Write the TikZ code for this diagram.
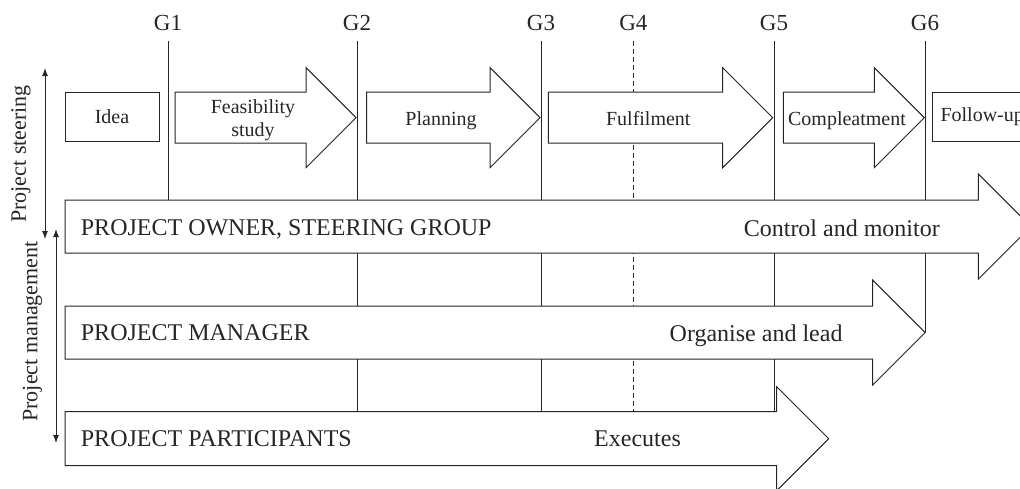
\documentclass[tikz,border=0pt]{standalone}
\usepackage{fontspec}
\setmainfont{Liberation Serif}
\usetikzlibrary{arrows.meta}

\tikzset{
  ink/.style={black!85},
  outline/.style={draw=black!85, line width=1pt, line join=miter},
  blockshape/.style={outline, fill=white},
  gateline/.style={draw=black!85, line width=1pt},
  gatemid/.style={gateline, dash pattern=on 5pt off 3pt},
  gatelabel/.style={font=\fontsize{23}{27}\selectfont, text=black!85, inner sep=0pt, anchor=base},
  phaselabel/.style={font=\fontsize{20}{23.4}\selectfont, text=black!85, inner sep=0pt},
  rolelabel/.style={font=\fontsize{24}{28}\selectfont, text=black!85, inner sep=0pt},
  sidelabel/.style={font=\fontsize{22}{26}\selectfont, text=black!85, inner sep=0pt, rotate=90},
  scopearrow/.style={draw=black!85, line width=1pt,
    {Latex[length=8pt,width=6pt]}-{Latex[length=8pt,width=6pt]}},
}

% block arrow: #1 tail x, #2 x of the head base, #3 centre y,
% #4 half shaft height, #5 half head height (head drawn at 45 degrees)
\newcommand\blockarrow[5]{%
  \draw[blockshape] (#1,#3-#4) -- (#2,#3-#4) -- (#2,#3-#5) -- ({#2+#5},#3)
    -- (#2,#3+#5) -- (#2,#3+#4) -- (#1,#3+#4) -- cycle;}

\begin{document}
\begin{tikzpicture}[x=1pt,y=-1pt]
\useasboundingbox (0,0) rectangle (1020,488);
\fill[white] (0,0) rectangle (1020,488);
\clip (0,0) rectangle (1020,488);

% decision gates
\foreach \g/\x/\yb in {G1/168/200,G2/357/411.7,G3/541/411.7,G5/774/411.7,G6/925/332} {
  \node[gatelabel] (\g) at (\x,30) {\g};
  \coordinate (\g-top) at (\x,41);
  \coordinate (\g-bot) at (\x,\yb);
  \draw[gateline] (\g-top) -- (\g-bot);
}
\node[gatelabel] (G4) at (633.3,30) {G4};
\coordinate (G4-top) at (633.3,41);
\coordinate (G4-bot) at (633.3,411.7);
\draw[gatemid] (G4-top) -- (G4-bot);

% project phases
\node[phaselabel, outline, fill=white, minimum width=94pt, minimum height=49.5pt]
  (idea) at (112,116.8) {Idea};
\blockarrow{175}{306}{117.7}{25.5}{50}
\blockarrow{366.7}{490}{117.7}{25.5}{50}
\blockarrow{548.3}{722.7}{117.7}{25.5}{50}
\blockarrow{783.3}{874.3}{117.7}{25.5}{50}
\node[phaselabel, align=center] (feasibility) at (253,120.3) {Feasibility\\study};
\node[phaselabel, anchor=base] (planning) at (441,125) {Planning};
\node[phaselabel, anchor=base] (fulfilment) at (648.3,125) {Fulfilment};
\node[phaselabel, anchor=base] (completion) at (847,125) {Compleatment};
\node[phaselabel, outline, fill=white, anchor=west, inner xsep=7.7pt,
  text width=90pt, align=left, minimum height=49.5pt]
  (followup) at (932.3,116.8) {Follow-up};

% roles
\blockarrow{65}{978.3}{226.6}{26.6}{52.6}
\blockarrow{65}{872.7}{332.5}{26.5}{52.5}
\blockarrow{65}{776.7}{438.7}{27}{52}
\node[rolelabel, anchor=base west] (owner) at (80.7,235) {PROJECT OWNER, STEERING GROUP};
\node[rolelabel, anchor=base east] (ownertask) at (940,236) {Control and monitor};
\node[rolelabel, anchor=base west] (manager) at (80.7,340.7) {PROJECT MANAGER};
\node[rolelabel, anchor=base east] (managertask) at (842.7,341) {Organise and lead};
\node[rolelabel, anchor=base west] (participants) at (80.7,446.7) {PROJECT PARTICIPANTS};
\node[rolelabel, anchor=base west] (participantstask) at (594,446.7) {Executes};

% responsibility ranges
\node[sidelabel] (steering) at (21,154) {Project steering};
\node[sidelabel] (management) at (32.5,331.5) {Project management};
\coordinate (steer-top) at (45,68);
\coordinate (steer-bot) at (45,239);
\coordinate (mgmt-top) at (56,229);
\coordinate (mgmt-bot) at (56,443);
\draw[scopearrow] (steer-top) -- (steer-bot);
\draw[scopearrow] (mgmt-top) -- (mgmt-bot);
\end{tikzpicture}
\end{document}
